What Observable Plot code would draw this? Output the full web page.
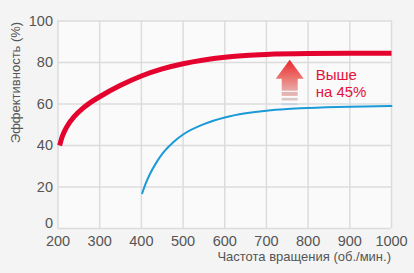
<!DOCTYPE html>
<html><head><meta charset="utf-8">
<script src="https://cdn.jsdelivr.net/npm/d3@7"></script>
<script src="https://cdn.jsdelivr.net/npm/@observablehq/plot@0.6"></script>
<style>
html,body{margin:0;padding:0;background:#f4f4f4;}
</style>
</head><body>
<div id="chart"></div>
<script>
const xTicks = [200, 300, 400, 500, 600, 700, 800, 900, 1000];
const yTicks = [0, 20, 40, 60, 80, 100];

const redX = [204, 210, 220, 240, 260, 280, 300, 350, 400, 450, 500, 550, 600, 650, 700, 800, 900, 1000];
const redY = [40, 44.2, 48.6, 54.2, 58, 61, 63.5, 69, 73.5, 76.9, 79.4, 81.2, 82.5, 83.4, 83.9, 84.3, 84.4, 84.4];

const blueX = [402, 410, 420, 435, 450, 475, 500, 550, 600, 650, 700, 750, 800, 900, 1000];
const blueY = [17, 21.5, 26, 31.5, 36, 41.3, 45.3, 50.3, 53.5, 55.5, 56.8, 57.6, 58.1, 58.7, 59];

const xLabel = "Частота вращения (об./мин.)";
const yLabel = "Эффективность (%)";
const noteText = "Выше\nна 45%";
const noteX = 818;
const noteY = 70;
const arrowX = 757;
const arrowBottom = 59.2;
const arrowTop = 81.1;

const red = d3.range(redX.length).map(i => ({x: redX[i], y: redY[i]}));
const blue = d3.range(blueX.length).map(i => ({x: blueX[i], y: blueY[i]}));

const font = "'Liberation Sans', Arial, sans-serif";

function arrowMark(index, scales, values, dims) {
  const g = d3.create("svg:g");
  const cx = scales.x(arrowX);
  const yT = scales.y(arrowTop);
  const yB = scales.y(arrowBottom);
  const H = yB - yT;
  const k = H / 46;
  const defs = g.append("defs");
  const grad = defs.append("linearGradient").attr("id", "arrGrad")
    .attr("x1", 0).attr("y1", 0).attr("x2", 0).attr("y2", 1)
    .attr("gradientUnits", "objectBoundingBox");
  grad.append("stop").attr("offset", "0%").attr("stop-color", "#e8262f");
  grad.append("stop").attr("offset", "55%").attr("stop-color", "#ec6f6a");
  grad.append("stop").attr("offset", "100%").attr("stop-color", "#e8aaa8");
  const headHalf = 14, shaftHalf = 8;
  const headBase = yT + 19.3 * k;
  const solidEnd = yT + 31.3 * k;
  g.append("path")
    .attr("d", `M${cx},${yT} L${cx + headHalf},${headBase} L${cx + shaftHalf},${headBase} L${cx + shaftHalf},${solidEnd} L${cx - shaftHalf},${solidEnd} L${cx - shaftHalf},${headBase} L${cx - headHalf},${headBase} Z`)
    .attr("fill", "url(#arrGrad)");
  const stripes = [[32.6, 36.6, "#e2b4b2"], [38.6, 41.3, "#dcc6cc"], [44, 46, "#c9d2e3"]];
  for (const [a, b, c] of stripes) {
    g.append("rect").attr("x", cx - shaftHalf).attr("width", shaftHalf * 2)
      .attr("y", yT + a * k).attr("height", (b - a) * k).attr("fill", c);
  }
  return g.node();
}

function labelsMark(index, scales, values, dims) {
  const g = d3.create("svg:g").attr("font-family", font).attr("fill", "#555");
  g.append("text").attr("x", dims.width - dims.marginRight).attr("y", 260.5)
    .attr("text-anchor", "end").attr("font-size", 13).text(xLabel);
  g.append("text").attr("transform", `translate(19.5,82.5) rotate(-90)`)
    .attr("text-anchor", "middle").attr("font-size", 13).text(yLabel);
  return g.node();
}

const chart = Plot.plot({
  width: 414,
  height: 273,
  marginLeft: 57.5,
  marginRight: 23,
  marginTop: 20.5,
  marginBottom: 45,
  style: {background: "#f4f4f4", fontFamily: font, fontSize: "14px", color: "#555"},
  x: {domain: [200, 1000], ticks: xTicks, label: null},
  y: {domain: [0, 100], ticks: yTicks, label: null},
  marks: [
    Plot.frame({fill: "#fafafa", stroke: null}),
    Plot.gridX(xTicks, {stroke: "#dcdcdc", strokeOpacity: 1, strokeWidth: 1.5}),
    Plot.gridY(yTicks, {stroke: "#dcdcdc", strokeOpacity: 1, strokeWidth: 1.5}),
    Plot.axisX(xTicks, {tickSize: 0, tickPadding: 7, fontSize: 14.5, fill: "#555", label: null, tickFormat: d => String(d)}),
    Plot.axisY(yTicks.filter(d => d > 0), {tickSize: 0, tickPadding: 5, fontSize: 14.5, fill: "#555", label: null, tickFormat: d => String(d)}),
    Plot.axisY(yTicks.filter(d => d === 0), {tickSize: 0, tickPadding: 5, dy: -5, fontSize: 14.5, fill: "#555", label: null, tickFormat: d => String(d)}),
    Plot.line(blue, {x: "x", y: "y", stroke: "#1a9ad8", strokeWidth: 2, curve: "monotone-x"}),
    Plot.line(red, {x: "x", y: "y", stroke: "#e4032e", strokeWidth: 5, curve: "monotone-x", strokeLinecap: "butt"}),
    arrowMark,
    Plot.text([noteText], {x: noteX, y: noteY, text: d => d, textAnchor: "start", fill: "#e2123a", fontSize: 15, lineHeight: 1.1}),
    labelsMark
  ]
});
document.getElementById("chart").appendChild(chart);
</script>
</body></html>
